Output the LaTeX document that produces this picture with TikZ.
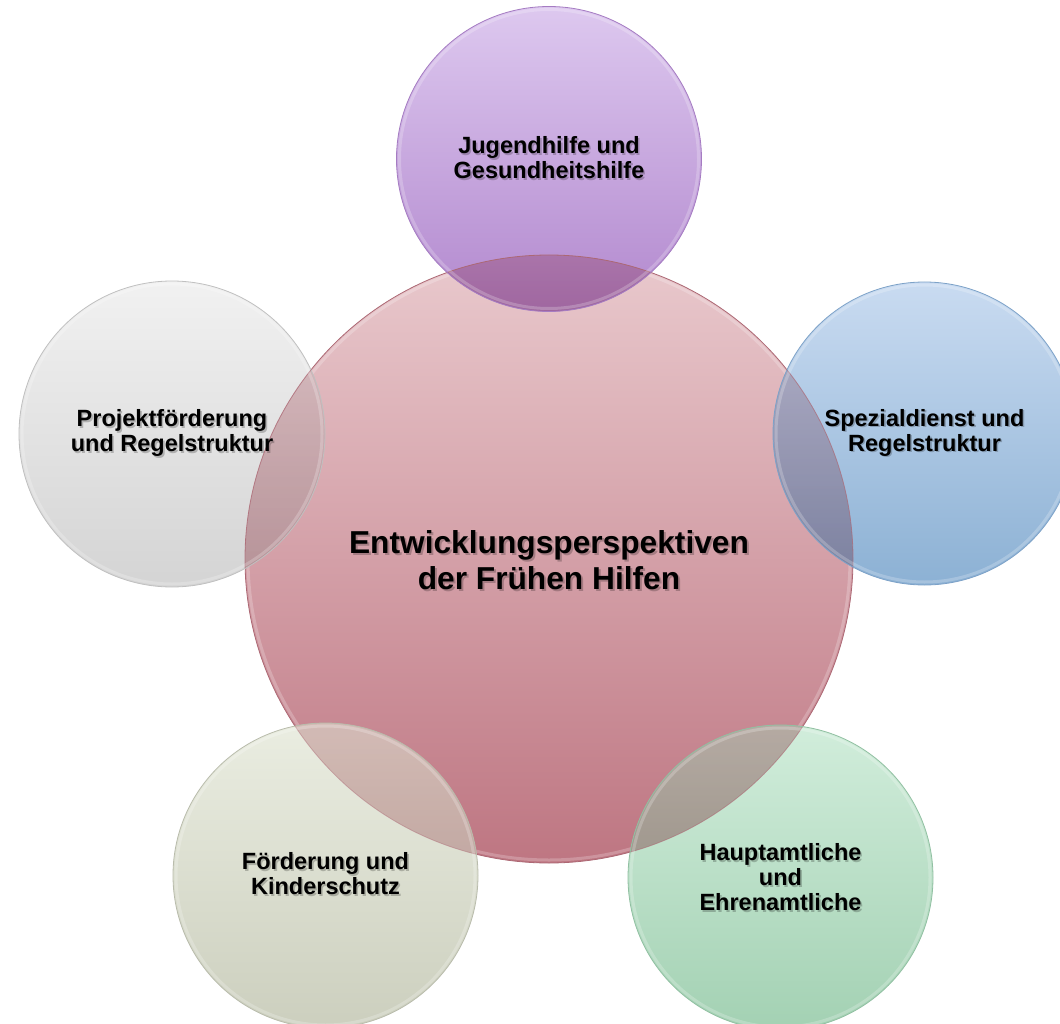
\documentclass[tikz,border=0pt]{standalone}
\usepackage{fontspec}
\setmainfont{Liberation Sans}
\newsavebox\mytbox
\newcommand\shtx[2][1.6pt]{%
  \sbox\mytbox{\begin{tabular}{@{}c@{}}#2\end{tabular}}%
  \rlap{\kern#1\raisebox{-#1}{\tikz[baseline=(sb.base)]\node[inner sep=0pt,text opacity=0.22,text=black] (sb) {\usebox\mytbox};}}\usebox\mytbox}
\begin{document}
\begin{tikzpicture}[x=1pt,y=-1pt,
  disc/.style={circle, inner sep=0pt, outer sep=0pt, minimum size=#1},
  bigtxt/.style={align=center, font=\bfseries\fontsize{31.7}{35.5}\selectfont, text=black, inner sep=0pt},
  smalltxt/.style={align=center, font=\bfseries\fontsize{23.5}{25}\selectfont, text=black, inner sep=0pt},
  rim/.style={white, opacity=0.22, line width=3pt},
  edge/.style={line width=0.8pt}
]
\definecolor{pkT}{RGB}{233,201,205}\definecolor{pkB}{RGB}{190,118,130}\definecolor{pkE}{RGB}{172,104,116}
\definecolor{puT}{RGB}{221,200,239}\definecolor{puB}{RGB}{178,136,206}\definecolor{puE}{RGB}{165,124,194}
\definecolor{blT}{RGB}{201,219,241}\definecolor{blB}{RGB}{140,177,212}\definecolor{blE}{RGB}{125,162,200}
\definecolor{grT}{RGB}{241,241,241}\definecolor{grB}{RGB}{212,212,212}\definecolor{grE}{RGB}{192,192,192}
\definecolor{beT}{RGB}{234,237,225}\definecolor{beB}{RGB}{204,207,190}\definecolor{beE}{RGB}{185,188,172}
\definecolor{gnT}{RGB}{209,237,219}\definecolor{gnB}{RGB}{163,209,179}\definecolor{gnE}{RGB}{145,192,162}
\useasboundingbox[fill=white] (0,0) rectangle (1060,1024);
% circles
\node[disc=608pt, top color=pkT, bottom color=pkB, draw=pkE, edge] (center) at (549,559) {};
\draw[rim] (center) circle[radius=301pt];
\node[disc=305pt, top color=puT, bottom color=puB] (top) at (549,159) {};
\node[disc=306pt, top color=grT, bottom color=grB] (left) at (172,434) {};
\node[disc=303pt, top color=blT, bottom color=blB] (right) at (924.5,433.5) {};
\node[disc=305pt, top color=beT, bottom color=beB] (bleft) at (325.5,875.5) {};
\node[disc=305pt, top color=gnT, bottom color=gnB] (bright) at (780.5,877.5) {};
% overlaps with the central circle
\foreach \s/\r/\p in {top/152.5/1.0, left/153/0.8, right/151.5/0.7, bleft/152.5/0.45, bright/152.5/0.6}{
  \begin{scope}
    \clip (\s) circle[radius=\r pt];
    \shade[blend mode=multiply, opacity=\p, top color=pkT, bottom color=pkB] (center) circle[radius=304pt];
    \draw[pkE, edge, opacity=\p] (center) circle[radius=304pt];
  \end{scope}
}
% satellite outlines and rims
\draw[puE, edge] (top) circle[radius=152.5pt];   \draw[rim] (top) circle[radius=149.5pt];
\draw[grE, edge] (left) circle[radius=153pt];    \draw[rim] (left) circle[radius=150pt];
\draw[blE, edge] (right) circle[radius=151.5pt]; \draw[rim] (right) circle[radius=148.5pt];
\draw[beE, edge] (bleft) circle[radius=152.5pt]; \draw[rim] (bleft) circle[radius=149.5pt];
\draw[gnE, edge] (bright) circle[radius=152.5pt];\draw[rim] (bright) circle[radius=149.5pt];
% texts
\node[bigtxt] (centert) at ([shift={(0,6.5)}]center) {\shtx[2pt]{Entwicklungsperspektiven\\der Frühen Hilfen}};
\node[smalltxt] (topt) at ([shift={(0,3)}]top) {\shtx{Jugendhilfe und\\Gesundheitshilfe}};
\node[smalltxt] (leftt) at ([shift={(0,1)}]left) {\shtx{Projektförderung\\und Regelstruktur}};
\node[smalltxt] (rightt) at ([shift={(0,1)}]right) {\shtx{Spezialdienst und\\Regelstruktur}};
\node[smalltxt] (bleftt) at ([shift={(0,2.5)}]bleft) {\shtx{Förderung und\\Kinderschutz}};
\node[smalltxt] (brightt) at ([shift={(0,4)}]bright) {\shtx{Hauptamtliche\\und\\Ehrenamtliche}};
\end{tikzpicture}
\end{document}
